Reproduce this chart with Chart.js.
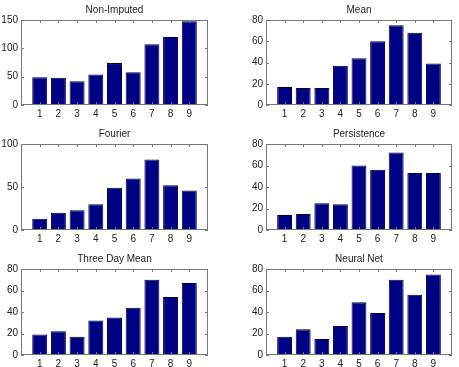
<!DOCTYPE html>
<html>
<head>
<meta charset="utf-8">
<script src="https://cdn.jsdelivr.net/npm/chart.js@4/dist/chart.umd.min.js"></script>
<style>
  body { margin: 0; width: 459px; height: 367px; overflow: hidden; background: #fff; }
  canvas { position: absolute; }
</style>
</head>
<body>
<canvas id="c0" width="215" height="122" style="left:0px;top:0px"></canvas>
<canvas id="c1" width="214" height="122" style="left:245px;top:0px"></canvas>
<canvas id="c2" width="215" height="122" style="left:0px;top:124px"></canvas>
<canvas id="c3" width="214" height="122" style="left:245px;top:124px"></canvas>
<canvas id="c4" width="215" height="122" style="left:0px;top:249px"></canvas>
<canvas id="c5" width="214" height="122" style="left:245px;top:249px"></canvas>
<script>
// x categories (bar positions)
var categories = [1, 2, 3, 4, 5, 6, 7, 8, 9];

// values per method
var nonImputed   = [49, 48, 42, 54, 74, 58, 107, 120, 148];
var meanVals     = [17, 16, 16, 37, 44, 60, 75, 68, 39];
var fourier      = [13, 20, 23, 30, 49, 60, 82, 52, 46];
var persistence  = [14, 15, 25, 24, 60, 56, 72, 53, 53];
var threeDayMean = [19, 22, 17, 32, 35, 44, 70, 54, 67];
var neuralNet    = [17, 24, 15, 27, 49, 39, 70, 56, 75];

var titles = ["Non-Imputed", "Mean", "Fourier", "Persistence", "Three Day Mean", "Neural Net"];
var series = [nonImputed, meanVals, fourier, persistence, threeDayMean, neuralNet];
var yMax  = [150, 80, 100, 80, 80, 80];
var yStep = [50, 20, 50, 20, 20, 20];

var FONT = { family: "'Liberation Sans', Arial, sans-serif", size: 10 };
var TEXT = "#222";

// draws the matlab style box, inward ticks and the title
var boxPlugin = {
  id: 'box',
  afterDraw: function(chart) {
    var ctx = chart.ctx, a = chart.chartArea;
    var xs = chart.scales.x, ys = chart.scales.y;
    ctx.save();
    ctx.strokeStyle = "#777";
    ctx.lineWidth = 1;
    ctx.strokeRect(a.left + 0.5, a.top + 0.5, a.right - a.left - 1, a.bottom - a.top - 1);
    ctx.beginPath();
    xs.ticks.forEach(function(t) {
      var px = Math.round(xs.getPixelForValue(t.value)) + 0.5;
      ctx.moveTo(px, a.bottom); ctx.lineTo(px, a.bottom - 3);
      ctx.moveTo(px, a.top); ctx.lineTo(px, a.top + 3);
    });
    ys.ticks.forEach(function(t) {
      var py = Math.round(ys.getPixelForValue(t.value)) + 0.5;
      ctx.moveTo(a.left, py); ctx.lineTo(a.left + 3, py);
      ctx.moveTo(a.right, py); ctx.lineTo(a.right - 3, py);
    });
    ctx.stroke();
    ctx.fillStyle = TEXT;
    ctx.font = FONT.size + "px " + FONT.family;
    ctx.textAlign = "center";
    ctx.textBaseline = "middle";
    ctx.fillText(chart.options.plugins.box.text, (a.left + a.right) / 2, a.top - 10);
    ctx.restore();
  }
};

for (var i = 0; i < 6; i++) {
  var row = Math.floor(i / 2);
  var xAxisH = row == 0 ? 17 : 16;
  var pts = categories.map(function(c, j) { return { x: c, y: series[i][j] }; });
  new Chart(document.getElementById("c" + i), {
    type: 'bar',
    data: {
      datasets: [{
        data: pts,
        backgroundColor: "#000085",
        borderColor: "#000040",
        borderWidth: 1,
        barPercentage: 0.8,
        categoryPercentage: 1
      }]
    },
    options: {
      responsive: false,
      animation: false,
      layout: { padding: { top: 20, right: 7, left: 0, bottom: 0 } },
      plugins: {
        legend: { display: false },
        tooltip: { enabled: false },
        box: { text: titles[i] }
      },
      scales: {
        x: {
          type: 'linear',
          min: 0, max: 10,
          offset: false,
          grid: { display: false, drawTicks: false },
          border: { display: false },
          ticks: { stepSize: 1, font: FONT, color: TEXT, padding: 3, maxRotation: 0, autoSkip: false },
          afterBuildTicks: function(s) {
            s.ticks = s.ticks.filter(function(t) { return t.value >= 1 && t.value <= 9; });
          },
          afterFit: (function(h) { return function(s) { s.height = h; }; })(xAxisH)
        },
        y: {
          min: 0, max: yMax[i],
          grid: { display: false, drawTicks: false },
          border: { display: false },
          ticks: { stepSize: yStep[i], font: FONT, color: TEXT, padding: 3 },
          afterFit: function(s) { s.width = 21; }
        }
      }
    },
    plugins: [boxPlugin]
  });
}
</script>
</body>
</html>
